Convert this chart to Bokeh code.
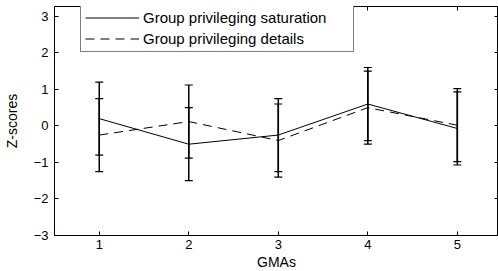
from bokeh.plotting import figure
from bokeh.models import (ColumnDataSource, Whisker, TeeHead, LinearAxis, FixedTicker,
                          Range1d, Legend, LegendItem)
from bokeh.embed import file_html
from bokeh.resources import INLINE

# ---- data ----
gmas = [1, 2, 3, 4, 5]
sat_mean = [0.2, -0.5, -0.25, 0.6, -0.07]
sat_err = [1.0, 1.0, 1.0, 1.0, 1.0]
det_mean = [-0.25, 0.12, -0.4, 0.5, 0.02]
det_err = [1.0, 1.0, 1.0, 1.0, 1.0]
y_ticks = [-3, -2, -1, 0, 1, 2, 3]
x_ticks = [1, 2, 3, 4, 5]
series_labels = ["Group privileging saturation", "Group privileging details"]
x_label = "GMAs"
y_label = "Z-scores"

FONT = "Liberation Sans"

p = figure(width=490, height=269, output_backend="svg", toolbar_location=None,
           x_range=Range1d(0.5, 5.46), y_range=Range1d(-3, 3.27),
           frame_width=444, frame_height=229,
           min_border_left=45, min_border_right=0, min_border_top=6, min_border_bottom=34)
p.xgrid.visible = False
p.ygrid.visible = False
p.outline_line_color = "black"
p.outline_line_width = 1
p.background_fill_color = "white"
p.border_fill_color = "white"

def style_axis(ax, ticks, labels=True):
    ax.ticker = FixedTicker(ticks=ticks)
    ax.major_tick_in = 4
    ax.major_tick_out = 0
    ax.minor_tick_in = 0
    ax.minor_tick_out = 0
    ax.axis_line_color = "black"
    ax.major_tick_line_color = "black"
    ax.major_label_text_font = FONT
    ax.major_label_text_font_size = "13px"
    ax.major_label_text_color = "black"
    if not labels:
        ax.major_label_overrides = {t: "" for t in ticks}
        ax.major_label_standoff = 0

style_axis(p.xaxis[0], x_ticks)
style_axis(p.yaxis[0], y_ticks)
p.yaxis[0].major_label_overrides = {t: (("\u2212" + str(-t)) if t < 0 else str(t)) for t in y_ticks}
p.xaxis[0].major_label_standoff = 4
p.yaxis[0].major_label_standoff = 6
p.xaxis[0].axis_label = x_label
p.yaxis[0].axis_label = y_label
for ax in (p.xaxis[0], p.yaxis[0]):
    ax.axis_label_text_font = FONT
    ax.axis_label_text_font_size = "14px"
    ax.axis_label_text_font_style = "normal"
    ax.axis_label_text_color = "black"
p.xaxis[0].axis_label_standoff = 2
p.yaxis[0].axis_label_standoff = 11

top_ax = LinearAxis()
style_axis(top_ax, x_ticks, labels=False)
p.add_layout(top_ax, "above")
right_ax = LinearAxis()
style_axis(right_ax, y_ticks, labels=False)
p.add_layout(right_ax, "right")

# ---- error bars ----
for mean, err in ((sat_mean, sat_err), (det_mean, det_err)):
    src = ColumnDataSource(dict(x=gmas,
                                upper=[m + e for m, e in zip(mean, err)],
                                lower=[m - e for m, e in zip(mean, err)]))
    w = Whisker(base="x", upper="upper", lower="lower", source=src,
                line_color="black", line_width=1.5,
                upper_head=TeeHead(size=8, line_color="black", line_width=1.2),
                lower_head=TeeHead(size=8, line_color="black", line_width=1.2))
    p.add_layout(w)

# ---- lines ----
r1 = p.line(gmas, sat_mean, line_color="black", line_width=1)
r2 = p.line(gmas, det_mean, line_color="black", line_width=1, line_dash="9 6")

legend = Legend(items=[LegendItem(label=series_labels[0], renderers=[r1]),
                       LegendItem(label=series_labels[1], renderers=[r2])],
                location=(26, 183), orientation="vertical",
                padding=4, spacing=4, margin=0,
                glyph_width=54, glyph_height=17, label_height=17,
                label_standoff=4, label_width=206,
                label_text_font=FONT, label_text_font_size="15px",
                label_text_color="black",
                border_line_color="black", border_line_width=1.2,
                background_fill_color="white", background_fill_alpha=1)
p.add_layout(legend)

open("out.html", "w").write(file_html(p, INLINE))
